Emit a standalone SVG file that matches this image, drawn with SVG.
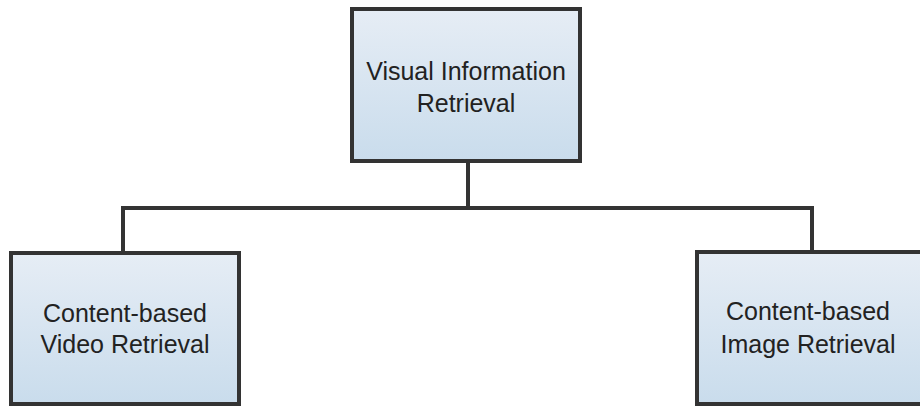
<svg xmlns="http://www.w3.org/2000/svg" width="920" height="406" viewBox="0 0 920 406">
<style>
.box{fill:url(#g);stroke:#333;stroke-width:4}
.lbl{font-family:"Liberation Sans","Open Sans",sans-serif;font-size:25px;fill:#222;text-anchor:middle}
.con{fill:none;stroke:#333;stroke-width:4}
</style>
<defs>
<linearGradient id="g" x1="0" y1="0" x2="0" y2="1">
<stop offset="0" stop-color="#e6edf5"/>
<stop offset="1" stop-color="#c9dcec"/>
</linearGradient>
</defs>
<rect width="920" height="406" fill="#fff"/>
<g id="connectors">
<path class="con" d="M468 162 V208 H123 V252"/>
<path class="con" d="M468 208 H812 V251"/>
</g>
<g id="top">
<rect class="box" x="352" y="9" width="228" height="152"/>
<text class="lbl" x="466" y="80">Visual Information</text>
<text class="lbl" x="466" y="112">Retrieval</text>
</g>
<g id="left">
<rect class="box" x="11" y="253" width="228" height="151"/>
<text class="lbl" x="125" y="322">Content-based</text>
<text class="lbl" x="125" y="353">Video Retrieval</text>
</g>
<g id="right">
<rect class="box" x="697" y="252" width="228" height="152"/>
<text class="lbl" x="808" y="320">Content-based</text>
<text class="lbl" x="808" y="353">Image Retrieval</text>
</g>
</svg>
